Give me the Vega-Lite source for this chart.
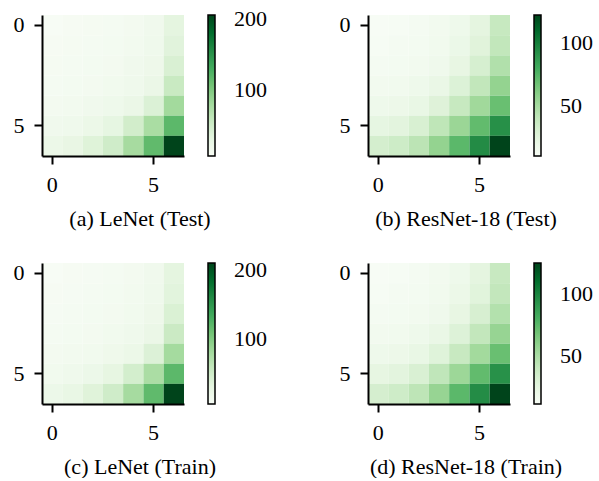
{
  "$schema": "https://vega.github.io/schema/vega-lite/v6.json",
  "padding": {"left": 13, "top": 13, "right": 0, "bottom": 0},
  "background": "white",
  "config": {
    "view": {"stroke": null},
    "font": "Liberation Serif",
    "axis": {"domainColor": "black", "domainWidth": 2, "tickColor": "black", "tickWidth": 2, "tickSize": 8, "labelFont": "Liberation Serif", "labelFontSize": 22, "labelColor": "black", "labelPadding": 10, "grid": false, "title": null, "labelAngle": 0},
    "legend": {"labelFont": "Liberation Serif", "labelFontSize": 22, "labelColor": "black", "gradientStrokeColor": "black", "gradientStrokeWidth": 1.5, "gradientThickness": 7, "gradientLength": 141, "labelOffset": 19, "gradientLabelOffset": 19},
    "title": {"font": "Liberation Serif", "fontSize": 22, "fontWeight": "normal", "color": "black"}
  },
  "resolve": {"scale": {"color": "independent"}, "legend": {"color": "independent"}},
  "datasets": {
    "a": [
      {"r":0,"c":0,"v":7},{"r":0,"c":1,"v":9},{"r":0,"c":2,"v":10},{"r":0,"c":3,"v":11},{"r":0,"c":4,"v":13},{"r":0,"c":5,"v":17},{"r":0,"c":6,"v":32},
      {"r":1,"c":0,"v":9},{"r":1,"c":1,"v":10},{"r":1,"c":2,"v":11},{"r":1,"c":3,"v":12},{"r":1,"c":4,"v":14},{"r":1,"c":5,"v":18},{"r":1,"c":6,"v":35},
      {"r":2,"c":0,"v":10},{"r":2,"c":1,"v":11},{"r":2,"c":2,"v":12},{"r":2,"c":3,"v":13},{"r":2,"c":4,"v":16},{"r":2,"c":5,"v":20},{"r":2,"c":6,"v":42},
      {"r":3,"c":0,"v":11},{"r":3,"c":1,"v":12},{"r":3,"c":2,"v":13},{"r":3,"c":3,"v":15},{"r":3,"c":4,"v":18},{"r":3,"c":5,"v":24},{"r":3,"c":6,"v":55},
      {"r":4,"c":0,"v":13},{"r":4,"c":1,"v":14},{"r":4,"c":2,"v":16},{"r":4,"c":3,"v":19},{"r":4,"c":4,"v":23},{"r":4,"c":5,"v":40},{"r":4,"c":6,"v":80},
      {"r":5,"c":0,"v":16},{"r":5,"c":1,"v":18},{"r":5,"c":2,"v":22},{"r":5,"c":3,"v":30},{"r":5,"c":4,"v":48},{"r":5,"c":5,"v":76},{"r":5,"c":6,"v":118},
      {"r":6,"c":0,"v":22},{"r":6,"c":1,"v":27},{"r":6,"c":2,"v":37},{"r":6,"c":3,"v":50},{"r":6,"c":4,"v":78},{"r":6,"c":5,"v":116},{"r":6,"c":6,"v":206}
    ],
    "b": [
      {"r":0,"c":0,"v":10},{"r":0,"c":1,"v":11},{"r":0,"c":2,"v":12},{"r":0,"c":3,"v":14},{"r":0,"c":4,"v":17},{"r":0,"c":5,"v":24},{"r":0,"c":6,"v":38},
      {"r":1,"c":0,"v":11},{"r":1,"c":1,"v":12},{"r":1,"c":2,"v":13},{"r":1,"c":3,"v":15},{"r":1,"c":4,"v":19},{"r":1,"c":5,"v":26},{"r":1,"c":6,"v":40},
      {"r":2,"c":0,"v":12},{"r":2,"c":1,"v":13},{"r":2,"c":2,"v":14},{"r":2,"c":3,"v":16},{"r":2,"c":4,"v":22},{"r":2,"c":5,"v":31},{"r":2,"c":6,"v":46},
      {"r":3,"c":0,"v":14},{"r":3,"c":1,"v":15},{"r":3,"c":2,"v":17},{"r":3,"c":3,"v":20},{"r":3,"c":4,"v":28},{"r":3,"c":5,"v":40},{"r":3,"c":6,"v":56},
      {"r":4,"c":0,"v":17},{"r":4,"c":1,"v":18},{"r":4,"c":2,"v":21},{"r":4,"c":3,"v":27},{"r":4,"c":4,"v":38},{"r":4,"c":5,"v":52},{"r":4,"c":6,"v":69},
      {"r":5,"c":0,"v":23},{"r":5,"c":1,"v":25},{"r":5,"c":2,"v":30},{"r":5,"c":3,"v":41},{"r":5,"c":4,"v":54},{"r":5,"c":5,"v":71},{"r":5,"c":6,"v":92},
      {"r":6,"c":0,"v":32},{"r":6,"c":1,"v":35},{"r":6,"c":2,"v":42},{"r":6,"c":3,"v":56},{"r":6,"c":4,"v":73},{"r":6,"c":5,"v":94},{"r":6,"c":6,"v":122}
    ],
    "c": [
      {"r":0,"c":0,"v":6},{"r":0,"c":1,"v":8},{"r":0,"c":2,"v":9},{"r":0,"c":3,"v":10},{"r":0,"c":4,"v":12},{"r":0,"c":5,"v":16},{"r":0,"c":6,"v":31},
      {"r":1,"c":0,"v":8},{"r":1,"c":1,"v":9},{"r":1,"c":2,"v":10},{"r":1,"c":3,"v":11},{"r":1,"c":4,"v":13},{"r":1,"c":5,"v":17},{"r":1,"c":6,"v":34},
      {"r":2,"c":0,"v":9},{"r":2,"c":1,"v":10},{"r":2,"c":2,"v":11},{"r":2,"c":3,"v":12},{"r":2,"c":4,"v":15},{"r":2,"c":5,"v":19},{"r":2,"c":6,"v":41},
      {"r":3,"c":0,"v":10},{"r":3,"c":1,"v":11},{"r":3,"c":2,"v":12},{"r":3,"c":3,"v":14},{"r":3,"c":4,"v":17},{"r":3,"c":5,"v":23},{"r":3,"c":6,"v":54},
      {"r":4,"c":0,"v":12},{"r":4,"c":1,"v":13},{"r":4,"c":2,"v":15},{"r":4,"c":3,"v":18},{"r":4,"c":4,"v":22},{"r":4,"c":5,"v":39},{"r":4,"c":6,"v":80},
      {"r":5,"c":0,"v":15},{"r":5,"c":1,"v":17},{"r":5,"c":2,"v":21},{"r":5,"c":3,"v":29},{"r":5,"c":4,"v":47},{"r":5,"c":5,"v":76},{"r":5,"c":6,"v":120},
      {"r":6,"c":0,"v":21},{"r":6,"c":1,"v":26},{"r":6,"c":2,"v":36},{"r":6,"c":3,"v":50},{"r":6,"c":4,"v":79},{"r":6,"c":5,"v":118},{"r":6,"c":6,"v":210}
    ],
    "d": [
      {"r":0,"c":0,"v":11},{"r":0,"c":1,"v":12},{"r":0,"c":2,"v":13},{"r":0,"c":3,"v":15},{"r":0,"c":4,"v":18},{"r":0,"c":5,"v":25},{"r":0,"c":6,"v":39},
      {"r":1,"c":0,"v":12},{"r":1,"c":1,"v":13},{"r":1,"c":2,"v":14},{"r":1,"c":3,"v":16},{"r":1,"c":4,"v":20},{"r":1,"c":5,"v":27},{"r":1,"c":6,"v":41},
      {"r":2,"c":0,"v":13},{"r":2,"c":1,"v":14},{"r":2,"c":2,"v":15},{"r":2,"c":3,"v":17},{"r":2,"c":4,"v":23},{"r":2,"c":5,"v":32},{"r":2,"c":6,"v":47},
      {"r":3,"c":0,"v":15},{"r":3,"c":1,"v":16},{"r":3,"c":2,"v":18},{"r":3,"c":3,"v":21},{"r":3,"c":4,"v":29},{"r":3,"c":5,"v":41},{"r":3,"c":6,"v":57},
      {"r":4,"c":0,"v":18},{"r":4,"c":1,"v":19},{"r":4,"c":2,"v":22},{"r":4,"c":3,"v":28},{"r":4,"c":4,"v":39},{"r":4,"c":5,"v":53},{"r":4,"c":6,"v":71},
      {"r":5,"c":0,"v":24},{"r":5,"c":1,"v":26},{"r":5,"c":2,"v":31},{"r":5,"c":3,"v":42},{"r":5,"c":4,"v":55},{"r":5,"c":5,"v":73},{"r":5,"c":6,"v":94},
      {"r":6,"c":0,"v":33},{"r":6,"c":1,"v":36},{"r":6,"c":2,"v":43},{"r":6,"c":3,"v":57},{"r":6,"c":4,"v":75},{"r":6,"c":5,"v":96},{"r":6,"c":6,"v":125}
    ]
  },
  "columns": 2,
  "bounds": "flush",
  "spacing": {"row": 107, "column": 184},
  "concat": [
    {
      "data": {"name": "a"},
      "width": 142, "height": 141,
      "title": {"text": "(a) LeNet (Test)", "orient": "bottom", "anchor": "middle", "frame": "group", "dx": 27, "offset": 14},
      "mark": {"type": "rect"},
      "encoding": {
        "x": {"field": "c", "type": "ordinal", "scale": {"paddingInner": 0, "paddingOuter": 0}, "axis": {"values": [0, 5]}},
        "y": {"field": "r", "type": "ordinal", "scale": {"paddingInner": 0, "paddingOuter": 0}, "axis": {"values": [0, 5]}},
        "color": {"field": "v", "type": "quantitative",
          "scale": {"domain": [7, 31.875, 56.75, 81.625, 106.5, 131.375, 156.25, 181.125, 206], "range": ["#f7fcf5","#e5f5e0","#c7e9c0","#a1d99b","#74c476","#41ab5d","#238b45","#006d2c","#00441b"], "interpolate": "rgb"},
          "legend": {"orient": "none", "legendX": 166, "legendY": 0, "direction": "vertical", "title": null, "values": [100, 200], "labelOffset": 19}}
      }
    },
    {
      "data": {"name": "b"},
      "width": 142, "height": 141,
      "title": {"text": "(b) ResNet-18 (Test)", "orient": "bottom", "anchor": "middle", "frame": "group", "dx": 27, "offset": 14},
      "mark": {"type": "rect"},
      "encoding": {
        "x": {"field": "c", "type": "ordinal", "scale": {"paddingInner": 0, "paddingOuter": 0}, "axis": {"values": [0, 5]}},
        "y": {"field": "r", "type": "ordinal", "scale": {"paddingInner": 0, "paddingOuter": 0}, "axis": {"values": [0, 5]}},
        "color": {"field": "v", "type": "quantitative",
          "scale": {"domain": [10, 24, 38, 52, 66, 80, 94, 108, 122], "range": ["#f7fcf5","#e5f5e0","#c7e9c0","#a1d99b","#74c476","#41ab5d","#238b45","#006d2c","#00441b"], "interpolate": "rgb"},
          "legend": {"orient": "none", "legendX": 166, "legendY": 0, "direction": "vertical", "title": null, "values": [50, 100], "labelOffset": 19}}
      }
    },
    {
      "data": {"name": "c"},
      "width": 142, "height": 141,
      "title": {"text": "(c) LeNet (Train)", "orient": "bottom", "anchor": "middle", "frame": "group", "dx": 27, "offset": 14},
      "mark": {"type": "rect"},
      "encoding": {
        "x": {"field": "c", "type": "ordinal", "scale": {"paddingInner": 0, "paddingOuter": 0}, "axis": {"values": [0, 5]}},
        "y": {"field": "r", "type": "ordinal", "scale": {"paddingInner": 0, "paddingOuter": 0}, "axis": {"values": [0, 5]}},
        "color": {"field": "v", "type": "quantitative",
          "scale": {"domain": [6, 31.5, 57, 82.5, 108, 133.5, 159, 184.5, 210], "range": ["#f7fcf5","#e5f5e0","#c7e9c0","#a1d99b","#74c476","#41ab5d","#238b45","#006d2c","#00441b"], "interpolate": "rgb"},
          "legend": {"orient": "none", "legendX": 166, "legendY": 0, "direction": "vertical", "title": null, "values": [100, 200], "labelOffset": 19}}
      }
    },
    {
      "data": {"name": "d"},
      "width": 142, "height": 141,
      "title": {"text": "(d) ResNet-18 (Train)", "orient": "bottom", "anchor": "middle", "frame": "group", "dx": 27, "offset": 14},
      "mark": {"type": "rect"},
      "encoding": {
        "x": {"field": "c", "type": "ordinal", "scale": {"paddingInner": 0, "paddingOuter": 0}, "axis": {"values": [0, 5]}},
        "y": {"field": "r", "type": "ordinal", "scale": {"paddingInner": 0, "paddingOuter": 0}, "axis": {"values": [0, 5]}},
        "color": {"field": "v", "type": "quantitative",
          "scale": {"domain": [11, 25.25, 39.5, 53.75, 68, 82.25, 96.5, 110.75, 125], "range": ["#f7fcf5","#e5f5e0","#c7e9c0","#a1d99b","#74c476","#41ab5d","#238b45","#006d2c","#00441b"], "interpolate": "rgb"},
          "legend": {"orient": "none", "legendX": 166, "legendY": 0, "direction": "vertical", "title": null, "values": [50, 100], "labelOffset": 19}}
      }
    }
  ]
}
